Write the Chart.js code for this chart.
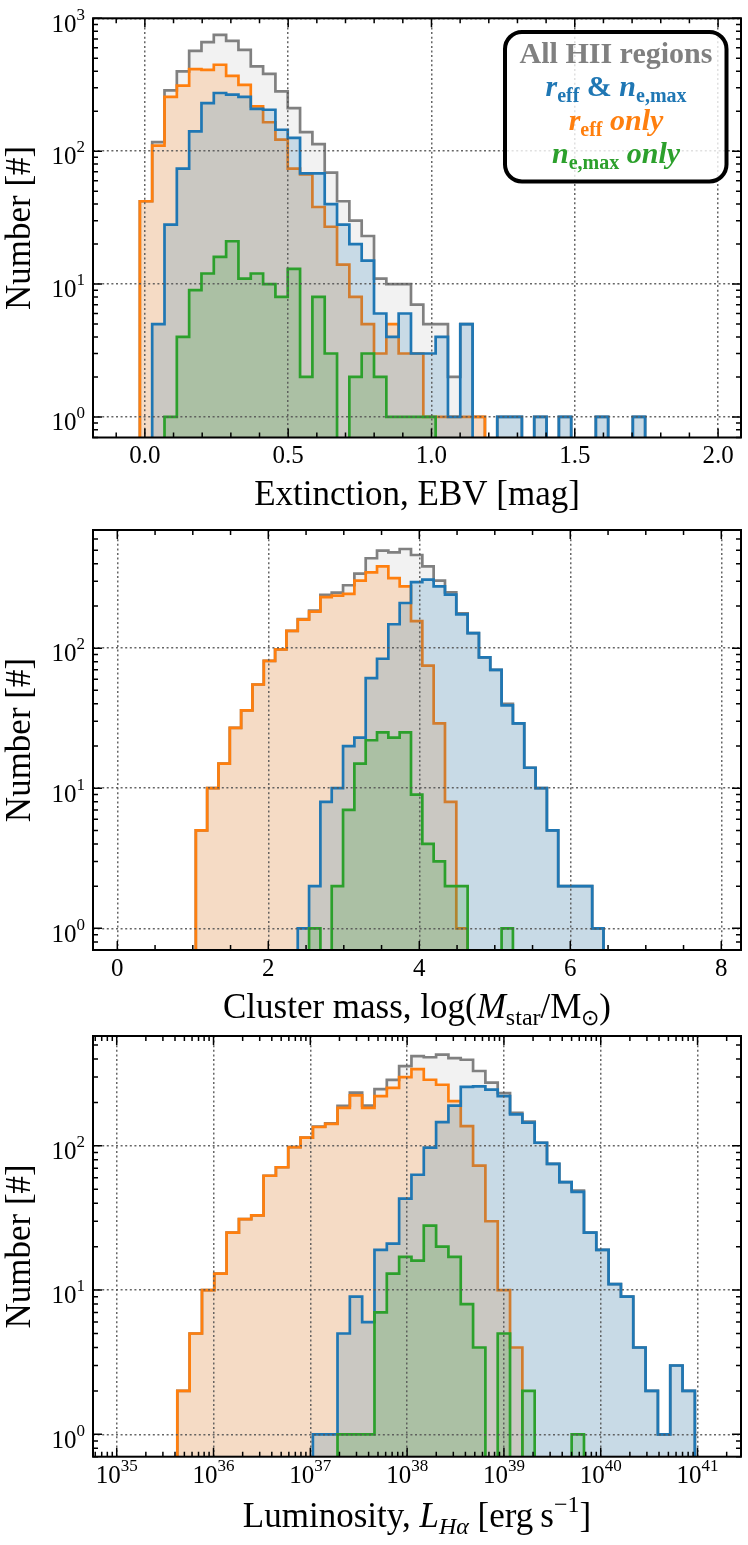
<!DOCTYPE html>
<html>
<head>
<meta charset="utf-8">
<title>HII region histograms</title>
<script src="https://cdn.jsdelivr.net/npm/chart.js@4.4.1/dist/chart.umd.min.js"></script>
<style>
  body { margin: 0; background: #fff; }
  canvas { display: block; }
</style>
</head>
<body>
<canvas id="ebvChart" width="748" height="515"></canvas>
<canvas id="massChart" width="748" height="515"></canvas>
<canvas id="lumChart" width="748" height="515"></canvas>
<script>
// Histogram counts, read bin by bin off the figure

// Extinction, EBV [mag] -- 41 equal bins
const ebvBinStart = -0.0175;
const ebvBinWidth = 0.043;
const ebvAll = [42, 117, 287, 398, 569, 661, 750, 676, 579, 434, 382, 282, 211, 139, 113, 69, 42, 30, 23, 11, 10,
  10, 7, 5, 5, 2, 5, 1, 0, 1, 1, 0, 1, 0, 1, 0, 0, 1, 0, 0, 1];
const ebvBoth = [0, 5, 28, 74, 141, 230, 274, 266, 256, 208, 205, 145, 126, 68, 68, 40, 28, 20, 15, 6, 4,
  6, 3, 3, 4, 1, 5, 0, 0, 1, 1, 0, 1, 0, 1, 0, 0, 1, 0, 0, 1];
const ebvReffOnly = [42, 110, 256, 311, 414, 409, 447, 369, 316, 217, 165, 122, 74, 67, 38, 27, 14, 8, 5, 3, 5,
  3, 3, 1, 1, 1, 1, 1, 0, 0, 0, 0, 0, 0, 0, 0, 0, 0, 0, 0, 0];
const ebvNeOnly = [0, 0, 1, 4, 9, 12, 16, 21, 11, 12, 10, 8, 13, 2, 8, 3, 0, 2, 3, 2, 1,
  1, 1, 1, 0, 0, 0, 0, 0, 0, 0, 0, 0, 0, 0, 0, 0, 0, 0, 0, 0];

// Cluster mass, log(Mstar/Msun) -- 36 equal bins
const massBinStart = 1.04;
const massBinWidth = 0.15;
const massAll = [5, 10, 15, 27, 36, 55, 81, 98, 133, 161, 185, 240, 249, 281, 340, 438, 497, 483, 510, 462, 383,
  303, 250, 177, 128, 86, 70, 40, 29, 14, 10, 5, 2, 2, 2, 1];
const massBoth = [0, 0, 0, 0, 0, 0, 0, 0, 0, 1, 2, 8, 10, 20, 23, 61, 84, 148, 210, 296, 308,
  276, 241, 174, 128, 86, 70, 39, 29, 14, 10, 5, 2, 2, 2, 1];
const massReffOnly = [5, 10, 15, 27, 36, 55, 81, 98, 133, 160, 182, 231, 237, 244, 303, 347, 383, 316, 276, 156, 75,
  29, 8, 1, 0, 0, 0, 0, 0, 0, 0, 0, 0, 0, 0, 0];
const massNeOnly = [0, 0, 0, 0, 0, 0, 0, 0, 0, 0, 1, 0, 2, 7, 15, 22, 25, 23, 25, 9, 4,
  3, 2, 2, 0, 0, 0, 1, 0, 0, 0, 0, 0, 0, 0, 0];

// Luminosity, L_Halpha [erg/s] -- 42 bins, equal in log10(L)
const lumLogStart = 35.626;
const lumLogWidth = 0.1273;
const lumAll = [2, 5, 10, 13, 25, 31, 33, 62, 71, 98, 114, 136, 143, 189, 234, 190, 247, 286, 357, 418, 411,
  428, 405, 395, 330, 274, 232, 169, 147, 105, 75, 56, 49, 25, 19, 11, 9, 4, 2, 1, 3, 2];
const lumBoth = [0, 0, 0, 0, 0, 0, 0, 0, 0, 0, 0, 1, 1, 5, 9, 6, 19, 21, 43, 63, 97,
  146, 190, 256, 258, 245, 221, 165, 145, 105, 75, 56, 48, 25, 19, 11, 9, 4, 2, 1, 3, 2];
const lumReffOnly = [2, 5, 10, 13, 25, 31, 33, 62, 71, 98, 114, 135, 142, 183, 224, 183, 221, 252, 299, 340, 287,
  265, 204, 137, 73, 30, 10, 4, 0, 0, 0, 0, 0, 0, 0, 0, 0, 0, 0, 0, 0, 0];
const lumNeOnly = [0, 0, 0, 0, 0, 0, 0, 0, 0, 0, 0, 0, 0, 1, 1, 1, 7, 13, 17, 16, 28,
  20, 17, 8, 4, 0, 5, 0, 2, 0, 0, 0, 1, 0, 0, 0, 0, 0, 0, 0, 0, 0];

// Tick labels
const ebvTicks = [0, 0.5, 1.0, 1.5, 2.0];
const massTicks = [0, 2, 4, 6, 8];
const lumTickExps = [35, 36, 37, 38, 39, 40, 41];
const countTickExps = [0, 1, 2, 3];

// Style

const FONT = "'Liberation Serif', 'Times New Roman', serif";
const GREY = '#808080';
const BLUE = '#1f77b4';
const ORANGE = '#ff7f0e';
const GREEN = '#2ca02c';
const FLOOR = 0.1; // empty bins sit below every y axis, so the step drops out of view

function rgba(hex, a) {
  const n = parseInt(hex.slice(1), 16);
  return `rgba(${n >> 16}, ${(n >> 8) & 255}, ${n & 255}, ${a})`;
}

function stepPoints(edges, counts) {
  const pts = [{ x: edges[0], y: FLOOR }];
  counts.forEach((c, i) => pts.push({ x: edges[i], y: c > 0 ? c : FLOOR }));
  pts.push({ x: edges[counts.length], y: FLOOR });
  return pts;
}

function histSet(label, edges, counts, color, alpha, order) {
  return {
    label: label,
    data: stepPoints(edges, counts),
    borderColor: color,
    backgroundColor: rgba(color, alpha),
    borderWidth: 2.7,
    fill: 'start',
    stepped: 'before',
    tension: 0,
    pointRadius: 0,
    pointHoverRadius: 0,
    order: order
  };
}

function logMinors(lo, hi) {
  const out = [];
  for (let d = lo; d <= hi; d++) {
    for (let m = 2; m <= 9; m++) out.push(m * Math.pow(10, d));
  }
  return out;
}

function drawRuns(ctx, runs, cx, baseY) {
  let total = 0;
  runs.forEach(r => { ctx.font = r.font; r.w = ctx.measureText(r.text).width; total += r.w; });
  let xx = cx - total / 2;
  ctx.textAlign = 'left';
  ctx.textBaseline = 'alphabetic';
  runs.forEach(r => {
    ctx.font = r.font;
    ctx.fillStyle = r.color || '#000';
    ctx.fillText(r.text, xx, baseY + (r.dy || 0));
    xx += r.w;
  });
}

function drawPower(ctx, exp, x, baseY, align) {
  const baseFont = `25px ${FONT}`;
  const expFont = `17px ${FONT}`;
  ctx.font = baseFont;
  const wb = ctx.measureText('10').width;
  ctx.font = expFont;
  const we = ctx.measureText(String(exp)).width;
  const left = align === 'right' ? x - wb - we : x - (wb + we) / 2;
  ctx.fillStyle = '#000';
  ctx.textAlign = 'left';
  ctx.textBaseline = 'alphabetic';
  ctx.font = baseFont;
  ctx.fillText('10', left, baseY);
  ctx.font = expFont;
  ctx.fillText(String(exp), left + wb, baseY - 12);
}

// inward ticks on all four sides, the frame, and the mathtext-like labels
function decor(o) {
  return {
    id: 'decor',
    afterDraw(chart) {
      const { ctx, chartArea: a } = chart;
      const x = chart.scales.x;
      const y = chart.scales.y;
      ctx.save();
      ctx.strokeStyle = '#000';
      ctx.lineWidth = 1.5;
      ctx.beginPath();
      const xTicks = (vals, len) => vals.forEach(v => {
        const p = x.getPixelForValue(v);
        if (p < a.left - 0.5 || p > a.right + 0.5) return;
        ctx.moveTo(p, a.bottom); ctx.lineTo(p, a.bottom - len);
        ctx.moveTo(p, a.top); ctx.lineTo(p, a.top + len);
      });
      const yTicks = (vals, len) => vals.forEach(v => {
        const p = y.getPixelForValue(v);
        if (p < a.top - 0.5 || p > a.bottom + 0.5) return;
        ctx.moveTo(a.left, p); ctx.lineTo(a.left + len, p);
        ctx.moveTo(a.right, p); ctx.lineTo(a.right - len, p);
      });
      xTicks(o.xMajor, 9);
      xTicks(o.xMinor, 5);
      yTicks(countTickExps.map(e => Math.pow(10, e)), 9);
      yTicks(logMinors(-1, 3), 5);
      ctx.stroke();
      ctx.lineWidth = 2;
      ctx.strokeRect(a.left, a.top, a.right - a.left, a.bottom - a.top);

      countTickExps.forEach(e => {
        const v = Math.pow(10, e);
        if (v < y.min || v > y.max * 1.01) return;
        drawPower(ctx, e, a.left - 8, y.getPixelForValue(v) + 13.3, 'right');
      });
      if (o.xPowers) {
        o.xPowers.forEach(e => drawPower(ctx, e, x.getPixelForValue(Math.pow(10, e)), a.bottom + 26.5, 'center'));
      }
      if (o.richTitle) drawRuns(ctx, o.richTitle, (a.left + a.right) / 2, o.richTitleY);
      if (o.legend) drawLegend(ctx);
      ctx.restore();
    }
  };
}

function drawLegend(ctx) {
  const B = `bold 30px ${FONT}`;
  const BI = `italic bold 30px ${FONT}`;
  const SB = `bold 20px ${FONT}`;
  ctx.beginPath();
  ctx.roundRect(505, 32, 221.5, 149.5, 17);
  ctx.fillStyle = 'rgba(255, 255, 255, 0.8)';
  ctx.fill();
  ctx.lineWidth = 4;
  ctx.strokeStyle = '#000';
  ctx.stroke();
  const cx = 616;
  drawRuns(ctx, [{ text: 'All HII regions', font: B, color: GREY }], cx, 63);
  drawRuns(ctx, [
    { text: 'r', font: BI, color: BLUE },
    { text: 'eff', font: SB, color: BLUE, dy: 6 },
    { text: ' & ', font: B, color: BLUE },
    { text: 'n', font: BI, color: BLUE },
    { text: 'e,max', font: SB, color: BLUE, dy: 6 }
  ], cx, 96);
  drawRuns(ctx, [
    { text: 'r', font: BI, color: ORANGE },
    { text: 'eff', font: SB, color: ORANGE, dy: 6 },
    { text: ' only', font: BI, color: ORANGE }
  ], cx, 130);
  drawRuns(ctx, [
    { text: 'n', font: BI, color: GREEN },
    { text: 'e,max', font: SB, color: GREEN, dy: 6 },
    { text: ' only', font: BI, color: GREEN }
  ], cx, 163);
}

const gridOpts = { color: 'rgba(85, 85, 85, 0.9)', lineWidth: 1.5, drawTicks: false, z: 1 };
const borderOpts = { display: false, dash: [2, 2.6] };

function histChart(id, o) {
  return new Chart(document.getElementById(id), {
    type: 'line',
    data: {
      datasets: [
        histSet('All HII regions', o.edges, o.all, GREY, 0.1, 4),
        histSet('r_eff only', o.edges, o.reff, ORANGE, 0.2, 3),
        histSet('r_eff & n_e,max', o.edges, o.both, BLUE, 0.2, 2),
        histSet('n_e,max only', o.edges, o.ne, GREEN, 0.2, 1)
      ]
    },
    options: {
      responsive: false,
      animation: false,
      events: [],
      layout: { padding: { left: 0, right: 7, top: o.top, bottom: 0 } },
      plugins: { legend: { display: false }, tooltip: { enabled: false } },
      scales: {
        x: {
          type: o.xType,
          min: o.xMin,
          max: o.xMax,
          afterBuildTicks: s => { s.ticks = o.xMajor.map(v => ({ value: v })); },
          afterFit: s => { s.height = o.xHeight; },
          grid: gridOpts,
          border: borderOpts,
          ticks: {
            display: !!o.xFormat,
            callback: o.xFormat || (() => ''),
            font: { family: FONT, size: 25 },
            color: '#000',
            padding: 4,
            maxRotation: 0,
            autoSkip: false
          },
          title: {
            display: !!o.xTitle,
            text: o.xTitle || '',
            font: { family: FONT, size: 35, lineHeight: 1 },
            color: '#000',
            padding: { top: 0, bottom: 1.5 }
          }
        },
        y: {
          type: 'logarithmic',
          min: o.yMin,
          max: o.yMax,
          afterBuildTicks: s => {
            s.ticks = countTickExps.map(e => ({ value: Math.pow(10, e) }))
              .filter(t => t.value >= s.min && t.value <= s.max * 1.01);
          },
          afterFit: s => { s.width = 93; },
          grid: gridOpts,
          border: borderOpts,
          ticks: { display: false },
          title: {
            display: true,
            text: 'Number [#]',
            font: { family: FONT, size: 35, lineHeight: 1.2 },
            color: '#000',
            padding: { top: 0, bottom: 0 }
          }
        }
      }
    },
    plugins: [decor(o)]
  });
}

// Panel 1: extinction

const ebvEdges = Array.from({ length: ebvAll.length + 1 }, (_, i) => ebvBinStart + i * ebvBinWidth);
const ebvMinor = [];
for (let i = -1; i <= 20; i++) if (i % 5 !== 0) ebvMinor.push(i / 10);

histChart('ebvChart', {
  edges: ebvEdges, all: ebvAll, both: ebvBoth, reff: ebvReffOnly, ne: ebvNeOnly,
  xType: 'linear', xMin: -0.181, xMax: 2.080,
  yMin: 0.72, yMax: 1000,
  top: 18.3, xHeight: 77.5,
  xMajor: ebvTicks, xMinor: ebvMinor,
  xFormat: v => v.toFixed(1),
  xTitle: 'Extinction, EBV [mag]',
  legend: true
});

// Panel 2: cluster mass

const massEdges = Array.from({ length: massAll.length + 1 }, (_, i) => massBinStart + i * massBinWidth);
const massMinor = [];
for (let i = 0; i <= 16; i++) if (i % 4 !== 0) massMinor.push(i / 2);

histChart('massChart', {
  edges: massEdges, all: massAll, both: massBoth, reff: massReffOnly, ne: massNeOnly,
  xType: 'linear', xMin: -0.322, xMax: 8.261,
  yMin: 0.742, yMax: 697,
  top: 15, xHeight: 80,
  xMajor: massTicks, xMinor: massMinor,
  xFormat: v => String(v),
  richTitle: [
    { text: 'Cluster mass, log(', font: `35px ${FONT}` },
    { text: 'M', font: `italic 35px ${FONT}` },
    { text: 'star', font: `24px ${FONT}`, dy: 7 },
    { text: '/M', font: `35px ${FONT}` },
    { text: '\u2299', font: `22px ${FONT}`, dy: 7 },
    { text: ')', font: `35px ${FONT}` }
  ],
  richTitleY: 503
});

// Panel 3: H-alpha luminosity

const lumEdges = Array.from({ length: lumAll.length + 1 }, (_, i) => Math.pow(10, lumLogStart + i * lumLogWidth));

histChart('lumChart', {
  edges: lumEdges, all: lumAll, both: lumBoth, reff: lumReffOnly, ne: lumNeOnly,
  xType: 'logarithmic', xMin: Math.pow(10, 34.755), xMax: Math.pow(10, 41.449),
  yMin: 0.74, yMax: 577,
  top: 6, xHeight: 88.3,
  xMajor: lumTickExps.map(e => Math.pow(10, e)), xMinor: logMinors(34, 41),
  xFormat: null,
  xPowers: lumTickExps,
  richTitle: [
    { text: 'Luminosity, ', font: `35px ${FONT}` },
    { text: 'L', font: `italic 35px ${FONT}` },
    { text: 'H\u03b1', font: `italic 24px ${FONT}`, dy: 7 },
    { text: ' [erg\u2009s', font: `35px ${FONT}` },
    { text: '\u22121', font: `24px ${FONT}`, dy: -15 },
    { text: ']', font: `35px ${FONT}` }
  ],
  richTitleY: 497
});
</script>
</body>
</html>
